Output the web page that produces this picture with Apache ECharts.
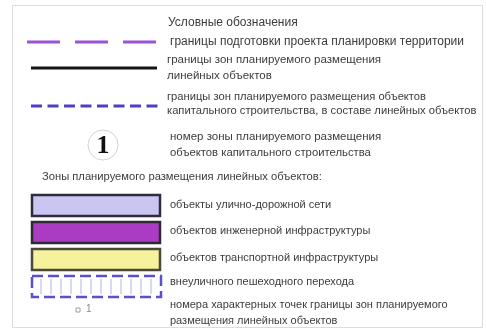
<!DOCTYPE html>
<html>
<head>
  <meta charset="utf-8">
  <title>Условные обозначения</title>
  <script src="https://cdn.jsdelivr.net/npm/echarts@6/dist/echarts.min.js"></script>
  <style>
    html, body { margin: 0; padding: 0; background: #fff; }
    #main { width: 486px; height: 332px; }
  </style>
</head>
<body>
  <div id="main"></div>
  <script type="text/javascript">
    // тексты легенды
    var title = 'Условные обозначения';
    var lineLabels = [
      ['границы подготовки проекта планировки территории'],
      ['границы зон планируемого размещения', 'линейных объектов'],
      ['границы зон планируемого размещения объектов', 'капитального строительства, в составе линейных объектов']
    ];
    var zoneNumber = '1';
    var zoneNumberLabel = ['номер зоны планируемого размещения', 'объектов капитального строительства'];
    var zonesHeader = 'Зоны планируемого размещения линейных объектов:';
    var zoneLabels = [
      'объекты улично-дорожной сети',
      'объектов инженерной инфраструктуры',
      'объектов транспортной инфраструктуры',
      'внеуличного пешеходного перехода'
    ];
    var pointNumber = '1';
    var pointLabel = ['номера характерных точек границы зон планируемого', 'размещения линейных объектов'];

    // оформление (отдельно от данных)
    function font(px) { return px + 'px "Liberation Sans", Arial, sans-serif'; }
    var TXT = '#3c3c3c';
    var lineStyles = [
      { y: 42, x1: 27, x2: 157, stroke: '#9a52d6', width: 3, dash: [33, 15] },
      { y: 68, x1: 31, x2: 157, stroke: '#141414', width: 3, dash: null },
      { y: 106, x1: 31, x2: 158, stroke: '#4d40c6', width: 3, dash: [11, 5.5] }
    ];
    var lineTextY = [[42], [60, 76], [97, 111]];
    var lineTextSize = [12, 11.5, 11.2];
    var zoneStyles = [
      { y: 195, fill: '#cbc6f1', stroke: '#2e2c3c' },
      { y: 222, fill: '#aa3cc4', stroke: '#2e2a34' },
      { y: 249, fill: '#f5f19c', stroke: '#4a4838' },
      { y: 276, fill: null, stroke: '#5a4fd0' }
    ];
    var zoneTextY = [205, 231, 258, 282];

    var rows = [];
    rows.push({ kind: 'frame' });
    rows.push({ kind: 'title' });
    lineLabels.forEach(function (l, i) { rows.push({ kind: 'line', i: i }); });
    rows.push({ kind: 'number' });
    rows.push({ kind: 'header' });
    zoneLabels.forEach(function (l, i) { rows.push({ kind: 'zone', i: i }); });
    rows.push({ kind: 'point' });

    function txt(api, x, y, s, size) {
      var p = api.coord([x, y]);
      return { type: 'text', style: { text: s, x: p[0], y: p[1], font: font(size || 11), fill: TXT,
        verticalAlign: 'middle', align: 'left' } };
    }

    function renderItem(params, api) {
      var r = rows[params.dataIndex];
      var ch = [];
      if (r.kind === 'frame') {
        var a = api.coord([12.5, 5.5]), b = api.coord([482.5, 327.5]);
        ch.push({ type: 'rect', shape: { x: a[0], y: a[1], width: b[0] - a[0], height: b[1] - a[1] },
          style: { fill: '#fff', stroke: '#dcdcdc', lineWidth: 1 } });
      } else if (r.kind === 'title') {
        ch.push(txt(api, 168, 23, title, 12));
      } else if (r.kind === 'line') {
        var s = lineStyles[r.i];
        var p1 = api.coord([s.x1, s.y]), p2 = api.coord([s.x2, s.y]);
        ch.push({ type: 'line', shape: { x1: p1[0], y1: p1[1], x2: p2[0], y2: p2[1] },
          style: { stroke: s.stroke, lineWidth: s.width, lineDash: s.dash } });
        lineLabels[r.i].forEach(function (t, j) {
          ch.push(txt(api, r.i === 0 ? 170 : 167, lineTextY[r.i][j], t, lineTextSize[r.i]));
        });
      } else if (r.kind === 'number') {
        var c = api.coord([103, 145]);
        ch.push({ type: 'circle', shape: { cx: c[0], cy: c[1], r: 15 }, style: { fill: '#fff', stroke: '#d2d2d2', lineWidth: 1 } });
        ch.push({ type: 'text', style: { text: zoneNumber, x: c[0], y: c[1] + 1, align: 'center', verticalAlign: 'middle',
          font: 'bold 26px "Liberation Serif", "DejaVu Serif", serif', fill: '#111' } });
        ch.push(txt(api, 170, 137, zoneNumberLabel[0], 11.5));
        ch.push(txt(api, 170, 153, zoneNumberLabel[1], 11.3));
      } else if (r.kind === 'header') {
        ch.push(txt(api, 42, 177, zonesHeader, 11.2));
      } else if (r.kind === 'zone') {
        var z = zoneStyles[r.i];
        var q = api.coord([32, z.y]), q2 = api.coord([160, z.y + 21]);
        var w = q2[0] - q[0], h = q2[1] - q[1];
        if (z.fill) {
          ch.push({ type: 'rect', shape: { x: q[0], y: q[1], width: w, height: h },
            style: { fill: z.fill, stroke: z.stroke, lineWidth: 2.5 } });
        } else {
          for (var hx = q[0] + 9; hx < q[0] + w - 2; hx += 10) {
            ch.push({ type: 'line', shape: { x1: hx, y1: q[1] + 3, x2: hx, y2: q[1] + h - 3 },
              style: { stroke: '#c2bdf0', lineWidth: 1.2 } });
          }
          ch.push({ type: 'rect', shape: { x: q[0], y: q[1], width: w + 1, height: h },
            style: { fill: null, stroke: z.stroke, lineWidth: 2.5, lineDash: [11, 5] } });
        }
        ch.push(txt(api, 170, zoneTextY[r.i], zoneLabels[r.i]));
      } else if (r.kind === 'point') {
        var m = api.coord([76, 310]);
        ch.push({ type: 'rect', shape: { x: m[0], y: m[1] - 2, width: 4, height: 4 }, style: { fill: null, stroke: '#a0a0a0', lineWidth: 1 } });
        ch.push({ type: 'text', style: { text: pointNumber, x: m[0] + 10, y: m[1] - 1, verticalAlign: 'middle',
          font: font(10), fill: '#8a8a8a' } });
        ch.push(txt(api, 170, 305, pointLabel[0]));
        ch.push(txt(api, 170, 321, pointLabel[1]));
      }
      return { type: 'group', children: ch };
    }

    var myChart = echarts.init(document.getElementById('main'));
    var option = {
      animation: false,
      grid: { left: 0, right: 0, top: 0, bottom: 0 },
      xAxis: { type: 'value', min: 0, max: 486, show: false },
      yAxis: { type: 'value', min: 0, max: 332, inverse: true, show: false },
      series: [{
        type: 'custom',
        clip: false,
        renderItem: renderItem,
        data: rows.map(function (r, i) { return [i]; })
      }]
    };
    myChart.setOption(option);
  </script>
</body>
</html>
